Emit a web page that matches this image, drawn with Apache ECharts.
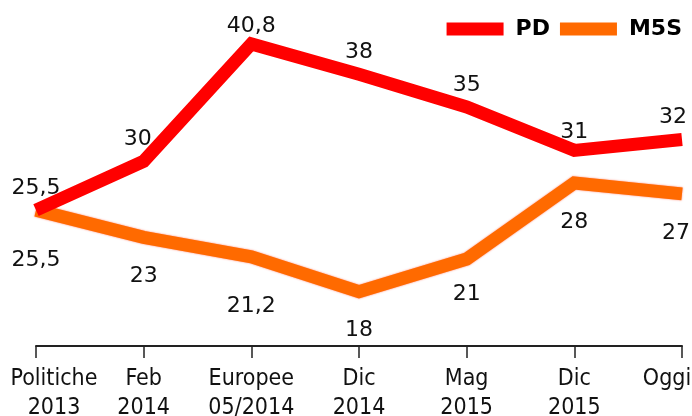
<!DOCTYPE html>
<html>
<head>
<meta charset="utf-8">
<script src="https://cdn.jsdelivr.net/npm/echarts@6/dist/echarts.min.js"></script>
<style>
	html, body { margin: 0; padding: 0; background: #fff; }
	#chart { width: 692px; height: 416px; }
</style>
</head>
<body>
<div id="chart"></div>
<script>
// dati
var categories = ['Politiche\n2013', 'Feb\n2014', 'Europee\n05/2014', 'Dic\n2014', 'Mag\n2015', 'Dic\n2015', 'Oggi'];
var pd = [25.5, 30, 40.8, 38, 35, 31, 32];
var m5s = [25.5, 23, 21.2, 18, 21, 28, 27];

// piccoli spostamenti delle etichette (solo layout)
var pdNudge = [[0, 0], [-6, 0], [0, 4], [0, 0], [0, 0], [0, 4], [-9, 0]];
var m5sNudge = [[0, 15], [0, 4], [0, 14], [0, 4], [0, 0], [0, 4], [-6, 4]];

function fmt(p) {
	return String(p.value).replace('.', ',');
}

function withNudge(values, nudge) {
	return values.map(function(v, i) {
		return { value: v, label: { offset: nudge[i] } };
	});
}

function chart() {
	let myChart = echarts.init(document.getElementById('chart'));

	option = {
		animation: false,
		backgroundColor: '#fff',
		textStyle: {
			fontFamily: 'DejaVu Sans'
		},
		legend: {
			right: 5,
			top: 13,
			icon: 'rect',
			itemWidth: 57,
			itemHeight: 13,
			itemGap: 10,
			textStyle: {
				color: '#000',
				fontSize: 22,
				fontWeight: 'bold',
				fontFamily: 'DejaVu Sans',
				padding: [0, 0, 0, 7]
			},
			data: ['PD', 'M5S']
		},
		grid: {
			left: 36,
			right: 10,
			top: 20,
			bottom: 70,
			containLabel: false,
			outerBoundsMode: 'none'
		},
		xAxis: {
			type: 'category',
			boundaryGap: false,
			data: categories,
			axisLine: {
				lineStyle: {
					color: '#222',
					width: 2
				}
			},
			axisTick: {
				alignWithLabel: true,
				length: 12,
				lineStyle: {
					color: '#222',
					width: 1.5
				}
			},
			axisLabel: {
				interval: 0,
				margin: 19,
				color: '#111',
				fontSize: 23,
				lineHeight: 29,
				fontFamily: 'DejaVu Sans Condensed',
				formatter: function(value, idx) {
					var lines = value.split('\n');
					var key = idx === 0 ? 'first' : (idx === categories.length - 1 ? 'last' : 'n');
					return lines.map(function(l) {
						return '{' + key + '|' + l + '}';
					}).join('\n');
				},
				rich: {
					n: {
						fontSize: 23,
						lineHeight: 29,
						color: '#111',
						fontFamily: 'DejaVu Sans Condensed'
					},
					first: {
						fontSize: 23,
						lineHeight: 29,
						color: '#111',
						fontFamily: 'DejaVu Sans Condensed',
						padding: [0, 0, 0, 36]
					},
					last: {
						fontSize: 23,
						lineHeight: 29,
						color: '#111',
						fontFamily: 'DejaVu Sans Condensed',
						padding: [0, 30, 0, 0]
					}
				}
			}
		},
		yAxis: {
			type: 'value',
			min: 13,
			max: 43,
			show: false,
			splitLine: {
				show: false
			}
		},
		series: [{
			name: 'PD',
			type: 'line',
			color: '#ff0000',
			showSymbol: true,
			symbol: 'circle',
			symbolSize: 0,
			z: 3,
			lineStyle: {
				color: '#ff0000',
				width: 13,
				join: 'miter',
				cap: 'butt'
			},
			label: {
				show: true,
				position: 'top',
				distance: 11,
				color: '#111',
				fontSize: 22,
				fontFamily: 'DejaVu Sans',
				formatter: fmt
			},
			data: withNudge(pd, pdNudge)
		}, {
			name: 'M5S',
			type: 'line',
			color: '#ff6a00',
			showSymbol: true,
			symbol: 'circle',
			symbolSize: 0,
			z: 2,
			lineStyle: {
				color: '#ff6a00',
				width: 13,
				join: 'miter',
				cap: 'butt',
				shadowColor: 'rgba(255, 40, 0, 0.6)',
				shadowBlur: 2
			},
			label: {
				show: true,
				position: 'bottom',
				distance: 24,
				color: '#111',
				fontSize: 22,
				fontFamily: 'DejaVu Sans',
				formatter: fmt
			},
			data: withNudge(m5s, m5sNudge)
		}]
	};

	myChart.setOption(option);
	window.addEventListener('resize', function() {
		myChart.resize();
	})
}

chart();
</script>
</body>
</html>
